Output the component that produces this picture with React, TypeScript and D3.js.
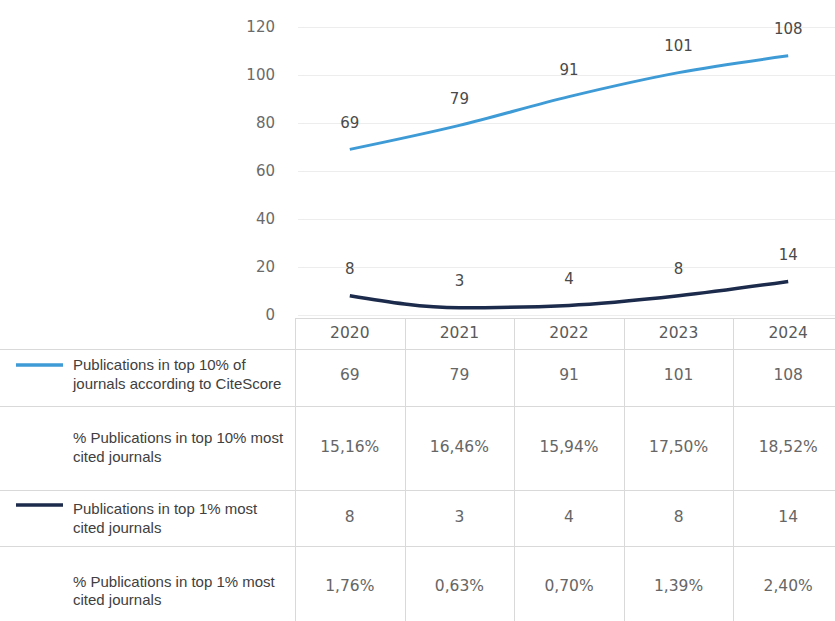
import React from "react";
import * as d3 from "d3";

const years = ["2020", "2021", "2022", "2023", "2024"];
const top10Counts = [69, 79, 91, 101, 108];
const top10Pct = ["15,16%", "16,46%", "15,94%", "17,50%", "18,52%"];
const top1Counts = [8, 3, 4, 8, 14];
const top1Pct = ["1,76%", "0,63%", "0,70%", "1,39%", "2,40%"];
const yTicks = [0, 20, 40, 60, 80, 100, 120];

const rowLabels = [
  ["Publications in top 10% of", "journals according to CiteScore"],
  ["% Publications in top 10% most", "cited journals"],
  ["Publications in top 1% most", "cited journals"],
  ["% Publications in top 1% most", "cited journals"],
];

const BLUE = "#3f9bd6";
const NAVY = "#1c2b4b";
const GRID = "#ededed";
const BORDER = "#d9d9d9";
const LABEL_FONT = "'Liberation Sans', Arial, sans-serif";
const NUM_FONT = "'DejaVu Sans', Verdana, sans-serif";

export default function App() {
  const W = 835;
  const H = 621;
  const colLeft = 295;
  const colW = 109.6;
  const x = d3
    .scaleBand<string>()
    .domain(years)
    .range([colLeft, colLeft + colW * years.length]);
  const cx = (y: string) => (x(y) as number) + x.bandwidth() / 2;
  const y = d3.scaleLinear().domain([0, 120]).range([315, 27]);

  const line = d3
    .line<number>()
    .x((_, i) => cx(years[i]))
    .y((d) => y(d))
    .curve(d3.curveMonotoneX);

  // row layout: top border, label line1 y, label line2 y, value y, legend y
  const rows = [
    { top: 349, l1: 365, l2: 384, v: 375, lg: 365 },
    { top: 406, l1: 438, l2: 457, v: 447, lg: 0 },
    { top: 490, l1: 509, l2: 528, v: 517, lg: 505 },
    { top: 546, l1: 582, l2: 600, v: 586, lg: 0 },
  ];
  const rowValues = [top10Counts.map(String), top10Pct, top1Counts.map(String), top1Pct];
  const legendColors = [BLUE, null, NAVY, null];

  return (
    <svg width={W} height={H} style={{ position: "absolute", left: 0, top: 0, background: "#fff" }}>
      {/* gridlines */}
      {yTicks.map((t) => (
        <g key={t}>
          <line x1={298} x2={W} y1={Math.round(y(t)) + 0.5} y2={Math.round(y(t)) + 0.5} stroke={GRID} strokeWidth={1} />
          <text
            x={275}
            y={y(t)}
            dy="0.35em"
            textAnchor="end"
            fontFamily={NUM_FONT}
            fontSize={15}
            fill="#6a6a6a"
          >
            {t}
          </text>
        </g>
      ))}

      {/* lines */}
      <path d={line(top10Counts) || ""} fill="none" stroke={BLUE} strokeWidth={3} />
      <path d={line(top1Counts) || ""} fill="none" stroke={NAVY} strokeWidth={3.5} />

      {/* data labels */}
      {[top10Counts, top1Counts].map((series, s) =>
        series.map((v, i) => (
          <text
            key={s + "-" + i}
            x={cx(years[i])}
            y={y(v) - 27}
            dy="0.35em"
            textAnchor="middle"
            fontFamily={NUM_FONT}
            fontSize={15}
            fill="#4a4a4a"
          >
            {v}
          </text>
        ))
      )}

      {/* table: header */}
      <line x1={colLeft} x2={W} y1={318.5} y2={318.5} stroke={BORDER} />
      {years.map((yr) => (
        <text
          key={yr}
          x={cx(yr)}
          y={333}
          dy="0.35em"
          textAnchor="middle"
          fontFamily={NUM_FONT}
          fontSize={15.5}
          fill="#5a5a5a"
        >
          {yr}
        </text>
      ))}
      {/* vertical dividers */}
      {years.map((yr) => (
        <line
          key={"v" + yr}
          x1={Math.round(x(yr) as number) + 0.5}
          x2={Math.round(x(yr) as number) + 0.5}
          y1={318}
          y2={H}
          stroke={BORDER}
        />
      ))}
      {/* row lines */}
      {rows.map((r, i) => (
        <line key={"h" + i} x1={0} x2={W} y1={r.top + 0.5} y2={r.top + 0.5} stroke={BORDER} />
      ))}

      {/* rows */}
      {rows.map((r, i) => (
        <g key={"r" + i}>
          {legendColors[i] && (
            <line
              x1={16}
              x2={63}
              y1={r.lg}
              y2={r.lg}
              stroke={legendColors[i] as string}
              strokeWidth={3.5}
            />
          )}
          <text fontFamily={LABEL_FONT} fontSize={15} fill="#404040">
            <tspan x={73} y={r.l1} dy="0.35em">
              {rowLabels[i][0]}
            </tspan>
            <tspan x={73} y={r.l2} dy="0.35em">
              {rowLabels[i][1]}
            </tspan>
          </text>
          {rowValues[i].map((v, j) => (
            <text
              key={j}
              x={cx(years[j])}
              y={r.v}
              dy="0.35em"
              textAnchor="middle"
              fontFamily={NUM_FONT}
              fontSize={15.5}
              fill="#666"
            >
              {v}
            </text>
          ))}
        </g>
      ))}
    </svg>
  );
}
